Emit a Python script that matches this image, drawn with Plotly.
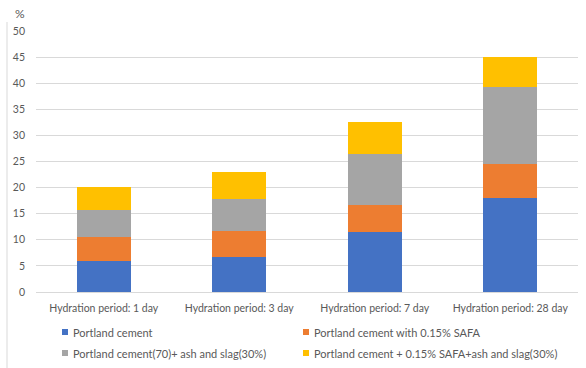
import plotly.graph_objects as go

# Hydration periods shown along the x axis
categories = [
    "Hydration period: 1 day",
    "Hydration period: 3 day",
    "Hydration period: 7 day",
    "Hydration period: 28 day",
]

# Stacked segment heights (%) for each binder composition
portland = [6.0, 6.8, 11.4, 18.1]
portland_safa = [4.5, 4.9, 5.3, 6.4]
portland_ash_slag = [5.2, 6.2, 9.8, 14.8]
portland_safa_ash_slag = [4.4, 5.1, 6.0, 5.8]

series_names = [
    "Portland cement",
    "Portland cement with 0.15% SAFA",
    "Portland cement(70)+ ash and slag(30%)",
    "Portland cement + 0.15% SAFA+ash and slag(30%)",
]
series_values = [portland, portland_safa, portland_ash_slag, portland_safa_ash_slag]
colors = ["#4472C4", "#ED7D31", "#A5A5A5", "#FFC000"]

y_ticks = [0, 5, 10, 15, 20, 25, 30, 35, 40, 45, 50]

FONT = "Lato"
TICK_FS = 10.5
LEGEND_FS = 11
TEXT = "#595959"
GRID = "#D9D9D9"

W, H = 586, 368
ML, MR, MT, MB = 36, 8, 31, 76
PW, PH = W - ML - MR, H - MT - MB


def px_x(px):
    """Pixel column -> paper x."""
    return (px - ML) / PW


def px_y(py):
    """Pixel row -> paper y."""
    return (H - MB - py) / PH


fig = go.Figure()
for name, vals, col in zip(series_names, series_values, colors):
    fig.add_trace(go.Bar(
        x=categories, y=vals, name=name,
        marker=dict(color=col, line=dict(width=0)),
        showlegend=False,
    ))

# Two-column legend below the plot: small colour squares + labels
legend_slots = [(62, 332), (303, 332), (62, 353), (303, 353)]
shapes = []
annotations = []
for (lx, ly), name, col in zip(legend_slots, series_names, colors):
    shapes.append(dict(
        type="rect", xref="paper", yref="paper",
        x0=px_x(lx), x1=px_x(lx + 6), y0=px_y(ly + 3), y1=px_y(ly - 3),
        fillcolor=col, line=dict(width=0),
    ))
    annotations.append(dict(
        text=name, xref="paper", yref="paper",
        x=px_x(lx + 9), y=px_y(ly), xanchor="left", yanchor="middle",
        showarrow=False, font=dict(family=FONT, size=LEGEND_FS, color=TEXT),
    ))

# Axis unit label
annotations.append(dict(
    text="%", xref="paper", yref="paper",
    x=px_x(20), y=px_y(14), xanchor="center", yanchor="middle",
    showarrow=False, font=dict(family=FONT, size=12, color=TEXT),
))

# Thin frame line at the left edge of the chart
shapes.append(dict(
    type="line", xref="paper", yref="paper",
    x0=px_x(7), x1=px_x(7), y0=px_y(H), y1=px_y(22),
    line=dict(color=GRID, width=1),
))

fig.update_layout(
    barmode="stack",
    bargap=0.6,
    width=W, height=H,
    margin=dict(l=ML, r=MR, t=MT, b=MB),
    paper_bgcolor="white", plot_bgcolor="white",
    font=dict(family=FONT, size=TICK_FS, color=TEXT),
    showlegend=False,
    xaxis=dict(
        showgrid=False, showline=False, ticks="",
        ticklabelstandoff=8,
        tickfont=dict(family=FONT, size=TICK_FS, color=TEXT),
    ),
    yaxis=dict(
        range=[0, 50], tickvals=y_ticks,
        showgrid=True, gridcolor=GRID, gridwidth=1,
        zeroline=True, zerolinecolor=GRID, zerolinewidth=1,
        showline=False, ticks="",
        ticklabelstandoff=10,
        tickfont=dict(family=FONT, size=TICK_FS, color=TEXT),
    ),
    annotations=annotations,
    shapes=shapes,
)

fig.write_html("out.html")
